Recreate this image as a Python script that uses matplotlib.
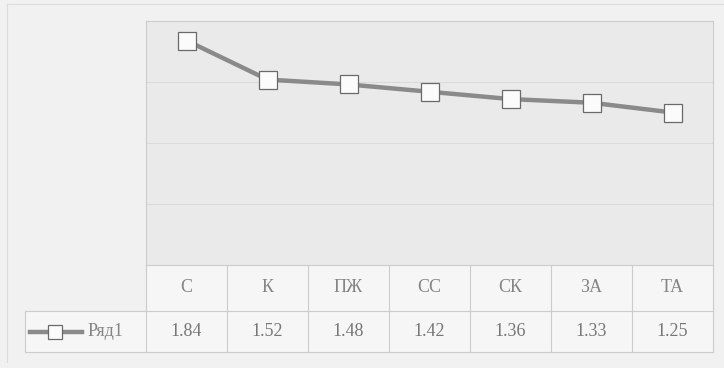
import matplotlib.pyplot as plt
from matplotlib.lines import Line2D
from matplotlib.patches import Rectangle

categories = ["С", "К", "ПЖ", "СС", "СК", "ЗА", "ТА"]
values = [1.84, 1.52, 1.48, 1.42, 1.36, 1.33, 1.25]
series_name = "Ряд1"

W, H = 724, 368
fig = plt.figure(figsize=(W / 100, H / 100), dpi=100)
fig.patch.set_facecolor("#f1f1f1")
plt.rcParams["font.family"] = ["Liberation Serif", "DejaVu Serif"]

text_col = "#858585"
grid_col = "#dadada"


def fx(px):
    return px / W


def fy(py):
    return 1 - py / H


# plot area in pixel box
left, right, top, bottom = 146, 713, 21, 265
ax = fig.add_axes([fx(left), fy(bottom), fx(right - left), (bottom - top) / H])
ax.set_facecolor("#eaeaea")
ax.set_xlim(-0.5, len(categories) - 0.5)
ax.set_ylim(0, 2)
ax.set_yticks([0.5, 1.0, 1.5])
ax.yaxis.grid(True, color=grid_col, lw=0.8)
ax.tick_params(left=False, bottom=False, labelleft=False, labelbottom=False)
for s in ax.spines.values():
    s.set_color("#cccccc")
    s.set_linewidth(0.8)

x = list(range(len(categories)))
ax.plot(x, values, color="#8a8a8a", lw=3.2, marker="s", ms=13.5,
        mfc="#fbfbfb", mec="#6a6a6a", mew=0.9, solid_capstyle="butt",
        zorder=3, clip_on=False)

# data table under the plot
row1, row2 = 311, 352
tr = ax.get_xaxis_transform()
y_cat = -(row1 - bottom) / (bottom - top)
y_val = -(row2 - bottom) / (bottom - top)
line_kw = dict(color="#cccccc", lw=0.8)

fig.add_artist(Rectangle((fx(left), fy(row2)), fx(right - left), (row2 - bottom) / H,
                         transform=fig.transFigure, facecolor="#f6f6f6",
                         edgecolor="none", zorder=0))
fig.add_artist(Rectangle((fx(25), fy(row2)), fx(left - 25), (row2 - row1) / H,
                         transform=fig.transFigure, facecolor="#f6f6f6",
                         edgecolor="none", zorder=0))

for i in range(len(categories) + 1):
    ax.plot([i - 0.5, i - 0.5], [0, y_val], transform=tr, clip_on=False, **line_kw)
ax.plot([-0.5, len(categories) - 0.5], [y_cat, y_cat], transform=tr, clip_on=False, **line_kw)
ax.plot([-0.5, len(categories) - 0.5], [y_val, y_val], transform=tr, clip_on=False, **line_kw)

for i, (c, v) in enumerate(zip(categories, values)):
    ax.text(i, y_cat / 2, c, transform=tr, ha="center", va="center",
            fontsize=13, color=text_col)
    ax.text(i, (y_cat + y_val) / 2, f"{v:.2f}", transform=tr, ha="center",
            va="center", fontsize=13, color="#767676")

# legend cell on the left of the values row
for xs, ys in [([25, left], [row1, row1]), ([25, left], [row2, row2]), ([25, 25], [row1, row2])]:
    fig.add_artist(Line2D([fx(p) for p in xs], [fy(p) for p in ys], **line_kw))
ymid = (row1 + row2) / 2
fig.add_artist(Line2D([fx(30), fx(82)], [fy(ymid), fy(ymid)], color="#8a8a8a", lw=3.2))
fig.add_artist(Line2D([fx(55)], [fy(ymid)], marker="s", ms=10.5, mfc="#fbfbfb",
                      mec="#6a6a6a", mew=0.9))
fig.text(fx(88), fy(ymid), series_name, ha="left", va="center",
         fontsize=13, color=text_col)

# outer chart frame
fig.add_artist(Line2D([fx(7), fx(7)], [fy(4), fy(362)], color="#dcdcdc", lw=0.8))
fig.add_artist(Line2D([fx(7), fx(724)], [fy(4), fy(4)], color="#dcdcdc", lw=0.8))

fig.savefig("out.png", dpi=100, facecolor=fig.get_facecolor())
